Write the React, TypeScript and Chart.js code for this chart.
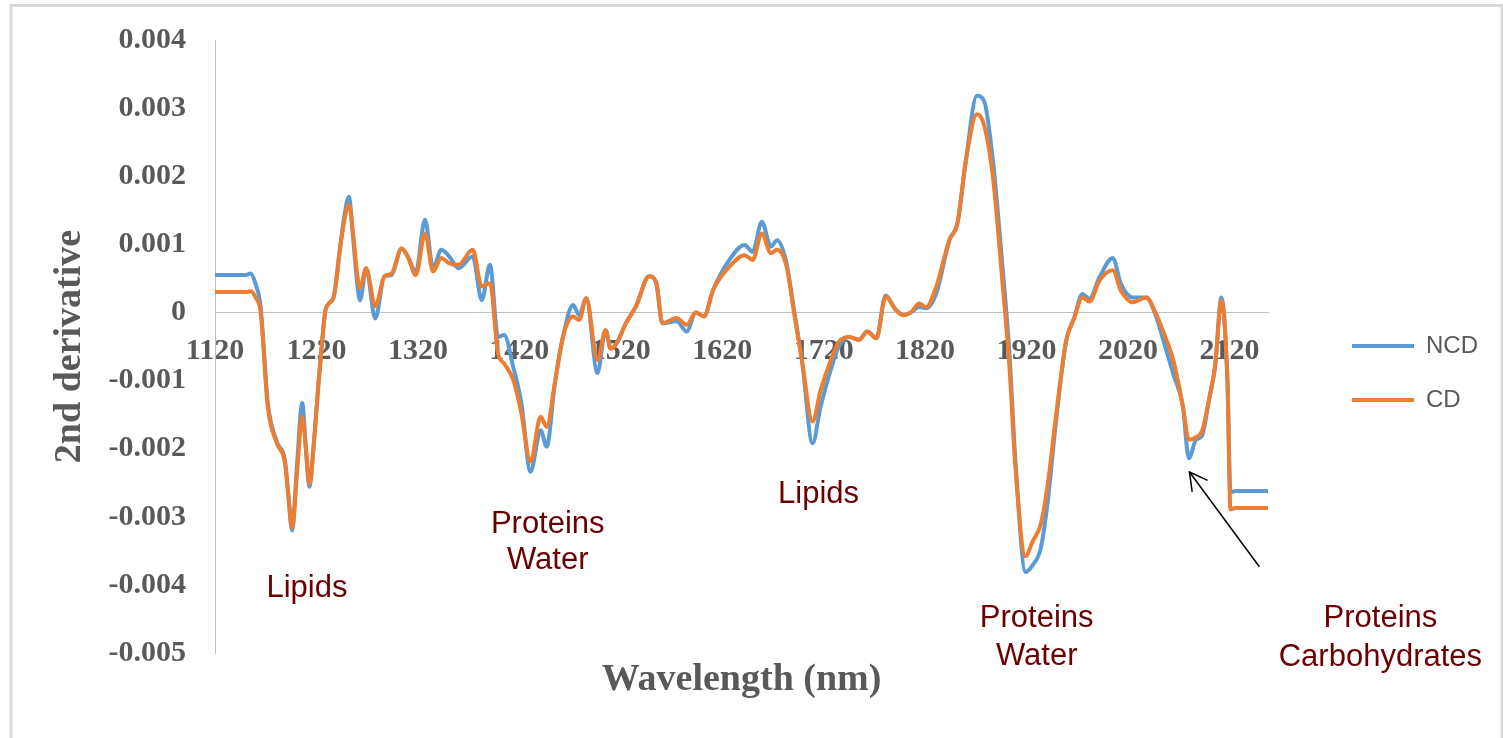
import React, { useEffect, useRef } from 'react';
import { Chart, registerables } from 'chart.js';

Chart.register(...registerables);

// ---- data ----
const wavelengths = [
  1120, 1150, 1155, 1160, 1165, 1172, 1181, 1189, 1192, 1196, 1201, 1206, 1210, 1213, 1218, 1222, 1226, 1229,
  1237, 1243, 1248, 1252, 1256, 1260, 1263, 1269, 1278, 1287, 1294, 1304, 1310, 1318, 1327, 1335, 1343, 1351,
  1360, 1374, 1383, 1391, 1399, 1405, 1414, 1422, 1431, 1441, 1447, 1455, 1463, 1473, 1479, 1486, 1497, 1505,
  1510, 1516, 1525, 1535, 1548, 1555, 1561, 1575, 1585, 1594, 1602, 1611, 1627, 1642, 1650, 1659, 1668, 1674,
  1683, 1691, 1699, 1709, 1717, 1727, 1735, 1745, 1755, 1763, 1772, 1781, 1791, 1799, 1806, 1814, 1821, 1831,
  1844, 1852, 1860, 1871, 1878, 1887, 1896, 1903, 1909, 1919, 1926, 1934, 1941, 1949, 1959, 1967, 1975, 1982,
  1992, 2005, 2013, 2025, 2038, 2047, 2057, 2065, 2074, 2080, 2087, 2093, 2100, 2106, 2112, 2118, 2121, 2126,
  2158,
];

const ncdValues = [
  0.00055, 0.00055, 0.00057, 0.00042, 0.00008, -0.00132, -0.0019, -0.00218, -0.00262, -0.0032, -0.0022, -0.00133,
  -0.0021, -0.00256, -0.00182, -0.00104, -0.00036, 0.00004, 0.00023, 0.00092, 0.00146, 0.0017, 0.00112, 0.00045,
  0.00018, 0.00065, -0.00009, 0.00053, 0.00055, 0.00094, 0.00082, 0.0006, 0.00136, 0.00065, 0.00092, 0.00082,
  0.00065, 0.00082, 0.00018, 0.0007, -0.00036, -0.00033, -0.0008, -0.00133, -0.00234, -0.00173, -0.00197, -0.00104,
  -0.00036, 0.00011, -0.00004, 0.00021, -0.00089, -0.00026, -0.00053, -0.00045, -0.00016, 0.00009, 0.00053, 0.00043,
  -0.00016, -0.00013, -0.00028, 0.0, -0.00006, 0.00033, 0.00077, 0.00099, 0.00089, 0.00133, 0.00097, 0.00106,
  0.00075, 0.00002, -0.00075, -0.00192, -0.00138, -0.00084, -0.0005, -0.00036, -0.0004, -0.00028, -0.00038, 0.00025,
  0.00004, -0.00004, 0.0, 0.00008, 0.00006, 0.00028, 0.00106, 0.00132, 0.00221, 0.00318, 0.00311, 0.00221,
  0.00072, -0.00057, -0.00217, -0.00381, -0.00371, -0.00346, -0.00276, -0.0016, -0.00042, -0.00008, 0.00027, 0.0002,
  0.00052, 0.0008, 0.00042, 0.00022, 0.00022, -0.00003, -0.00052, -0.00092, -0.00137, -0.00214, -0.00187, -0.00181,
  -0.00127, -0.00077, 0.00022, -0.001, -0.00264, -0.00262, -0.00262,
];

const cdValues = [
  0.0003, 0.0003, 0.00031, 0.00022, 0.0, -0.00138, -0.00192, -0.00221, -0.00265, -0.00316, -0.00232, -0.00153,
  -0.00205, -0.00251, -0.00182, -0.00104, -0.00036, 0.00004, 0.00023, 0.0009, 0.0014, 0.00158, 0.00117, 0.00058,
  0.00036, 0.00065, 0.00009, 0.00053, 0.00057, 0.00094, 0.00082, 0.00055, 0.00116, 0.0006, 0.0008, 0.00072,
  0.0007, 0.00092, 0.00038, 0.00043, -0.0006, -0.00075, -0.00099, -0.00148, -0.00219, -0.00153, -0.00168, -0.00104,
  -0.00036, -0.00006, -0.00011, 0.00021, -0.0007, -0.00026, -0.00053, -0.00045, -0.00016, 0.00009, 0.00053, 0.00043,
  -0.00016, -0.00008, -0.00018, 0.0, -0.00006, 0.00033, 0.00067, 0.00084, 0.00077, 0.00116, 0.00087, 0.00092,
  0.0007, -0.00002, -0.00075, -0.0016, -0.00114, -0.0007, -0.00043, -0.00036, -0.0004, -0.00028, -0.00038, 0.00023,
  0.00004, -0.00004, 0.0, 0.00013, 0.00008, 0.00038, 0.00107, 0.00132, 0.00221, 0.00291, 0.00276, 0.00197,
  0.00048, -0.00077, -0.00227, -0.00358, -0.00336, -0.00311, -0.00251, -0.00152, -0.00042, -0.00008, 0.00022, 0.00016,
  0.00047, 0.00062, 0.00032, 0.00015, 0.00022, 0.0, -0.00037, -0.00072, -0.00137, -0.00187, -0.00183, -0.00174,
  -0.00127, -0.00077, 0.00017, -0.001, -0.00289, -0.00287, -0.00287,
];

const seriesNames = ['NCD', 'CD'];
const seriesColors = ['#5B9BD5', '#ED7D31'];

const xTickValues = [1120, 1220, 1320, 1420, 1520, 1620, 1720, 1820, 1920, 2020, 2120];
const yTickValues = [-0.005, -0.004, -0.003, -0.002, -0.001, 0, 0.001, 0.002, 0.003, 0.004];
const xMin = 1120;
const xMax = 2158;
const yMin = -0.005;
const yMax = 0.004;

// annotation labels, anchored in data units (nm, 2nd derivative)
const annotationTexts = [['Lipids'], ['Proteins', 'Water'], ['Lipids'], ['Proteins', 'Water'], ['Proteins', 'Carbohydrates']];
const annotationX = [1210.6, 1448, 1715, 1930, 2268.8];
const annotationY = [[-0.00405], [-0.00311, -0.00364], [-0.00267], [-0.00449, -0.00505], [-0.00449, -0.00507]];
const arrowTail = { x: 2149.5, y: -0.003734 };
const arrowHead = { x: 2080.6, y: -0.002342 };

const serif = '"Liberation Serif", "Times New Roman", Times, serif';
const sans = '"Liberation Sans", Arial, Helvetica, sans-serif';
const axisGray = '#595959';

const decorPlugin = {
  id: 'decor',
  beforeDraw(chart: any) {
    const ctx = chart.ctx;
    ctx.save();
    ctx.fillStyle = '#ffffff';
    ctx.fillRect(0, 0, chart.width, chart.height);
    ctx.strokeStyle = '#D9D9D9';
    ctx.lineWidth = 3;
    ctx.strokeRect(11, 5.5, chart.width - 12, chart.height + 20);
    ctx.restore();
  },
  afterDatasetsDraw(chart: any) {
    const { ctx } = chart;
    const xs = chart.scales.x;
    const ys = chart.scales.y;
    ctx.save();
    ctx.fillStyle = '#6B0000';
    ctx.font = '31px ' + sans;
    ctx.textAlign = 'center';
    ctx.textBaseline = 'middle';
    annotationTexts.forEach((lines, i) => {
      const px = xs.getPixelForValue(annotationX[i]);
      lines.forEach((t, j) => {
        ctx.fillText(t, px, ys.getPixelForValue(annotationY[i][j]));
      });
    });
    const x1 = xs.getPixelForValue(arrowTail.x);
    const y1 = ys.getPixelForValue(arrowTail.y);
    const x2 = xs.getPixelForValue(arrowHead.x);
    const y2 = ys.getPixelForValue(arrowHead.y);
    ctx.strokeStyle = '#000000';
    ctx.lineWidth = 1.5;
    ctx.beginPath();
    ctx.moveTo(x1, y1);
    ctx.lineTo(x2, y2);
    ctx.stroke();
    const ang = Math.atan2(y2 - y1, x2 - x1);
    const hl = 20;
    const ha = 0.5;
    ctx.beginPath();
    ctx.moveTo(x2 - hl * Math.cos(ang - ha), y2 - hl * Math.sin(ang - ha));
    ctx.lineTo(x2, y2);
    ctx.lineTo(x2 - hl * Math.cos(ang + ha), y2 - hl * Math.sin(ang + ha));
    ctx.stroke();
    ctx.restore();
  },
};

export default function App() {
  const canvasRef = useRef<HTMLCanvasElement>(null);

  useEffect(() => {
    if (!canvasRef.current) return;
    const seriesValues = [ncdValues, cdValues];
    const chart = new Chart(canvasRef.current, {
      type: 'line',
      data: {
        datasets: seriesNames.map((name, i) => ({
          label: name,
          data: wavelengths.map((w, k) => ({ x: w, y: seriesValues[i][k] })),
          borderColor: seriesColors[i],
          backgroundColor: seriesColors[i],
          borderWidth: 4,
          borderCapStyle: 'round',
          borderJoinStyle: 'round',
          pointRadius: 0,
          pointHoverRadius: 0,
          fill: false,
          cubicInterpolationMode: 'monotone',
          order: i === 0 ? 1 : 0,
        })),
      },
      options: {
        responsive: false,
        animation: false,
        devicePixelRatio: 1,
        events: [],
        layout: { padding: { left: 0, top: 40, right: 21, bottom: 32 } },
        plugins: {
          legend: {
            position: 'right',
            maxWidth: 160,
            labels: {
              usePointStyle: true,
              pointStyle: 'line',
              pointStyleWidth: 62,
              padding: 30,
              color: axisGray,
              font: { family: sans, size: 24 },
              sort: (a: any, b: any) => a.datasetIndex - b.datasetIndex,
            },
          },
          tooltip: { enabled: false },
        },
        scales: {
          x: {
            type: 'linear',
            min: xMin,
            max: xMax,
            position: { y: 0 } as any,
            grid: { display: false, drawTicks: false },
            border: { display: true, color: '#BFBFBF', width: 1 },
            afterBuildTicks: (s: any) => {
              s.ticks = xTickValues.map((v) => ({ value: v }));
            },
            ticks: {
              autoSkip: false,
              maxRotation: 0,
              minRotation: 0,
              padding: 21,
              color: axisGray,
              font: { family: serif, size: 30, weight: 'bold' },
              callback: (v: any) => String(v),
            },
            afterFit: (s: any) => {
              s.height = 0;
              s.paddingLeft = 0;
              s.paddingRight = 0;
            },
          },
          xTitle: {
            type: 'linear',
            axis: 'x',
            position: 'bottom',
            min: xMin,
            max: xMax,
            grid: { display: false, drawTicks: false },
            border: { display: false },
            ticks: { display: false },
            title: {
              display: true,
              text: 'Wavelength (nm)',
              color: axisGray,
              font: { family: serif, size: 38, weight: 'bold' },
              padding: { top: 0, bottom: 3 },
            },
            afterFit: (s: any) => {
              s.height = 53;
            },
          },
          y: {
            type: 'linear',
            position: 'left',
            min: yMin,
            max: yMax,
            grid: { display: false, drawTicks: false },
            border: { display: true, color: '#BFBFBF', width: 1 },
            afterBuildTicks: (s: any) => {
              s.ticks = yTickValues.map((v) => ({ value: v }));
            },
            ticks: {
              autoSkip: false,
              padding: 29,
              color: axisGray,
              font: { family: serif, size: 30, weight: 'bold' },
              callback: (v: any) => (Math.abs(Number(v)) < 1e-12 ? '0' : Number(v).toFixed(3)),
            },
            title: {
              display: true,
              text: '2nd derivative',
              color: axisGray,
              font: { family: serif, size: 38, weight: 'bold' },
              padding: { top: 47, bottom: 0 },
            },
            afterFit: (s: any) => {
              s.width = 215;
              s.paddingTop = 0;
              s.paddingBottom = 0;
            },
          },
          yGap: {
            type: 'linear',
            axis: 'y',
            position: 'right',
            display: true,
            grid: { display: false, drawTicks: false },
            border: { display: false },
            ticks: { display: false },
            afterFit: (s: any) => {
              s.width = 54;
              s.paddingTop = 0;
              s.paddingBottom = 0;
            },
          },
        },
      } as any,
      plugins: [decorPlugin],
    } as any);
    return () => chart.destroy();
  }, []);

  return (
    <div style={{ position: 'absolute', left: 0, top: 0, width: 1503, height: 738, background: '#ffffff' }}>
      <canvas ref={canvasRef} width={1503} height={738} style={{ display: 'block', width: 1503, height: 738 }} />
    </div>
  );
}
